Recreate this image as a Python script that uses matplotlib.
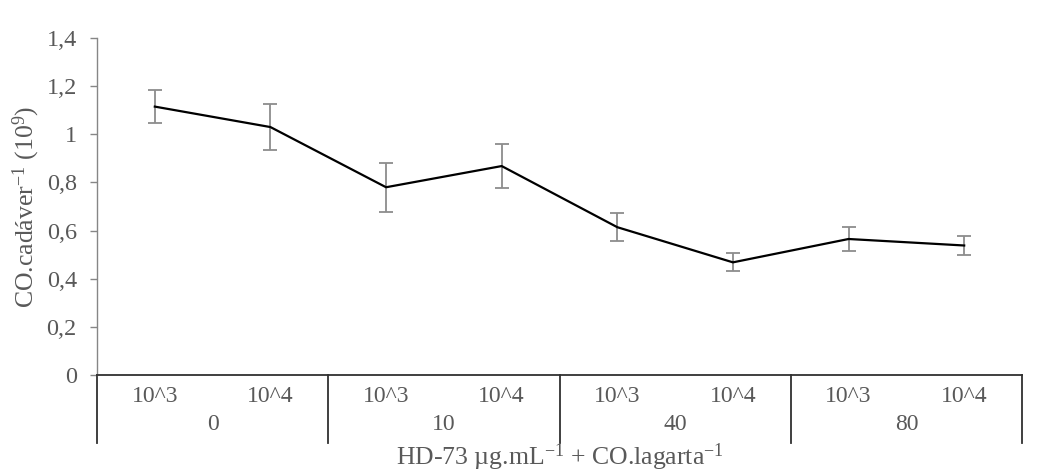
import matplotlib
matplotlib.use("Agg")
import matplotlib.pyplot as plt
import numpy as np

plt.rcParams['font.family'] = ['Liberation Serif', 'DejaVu Serif']
plt.rcParams['mathtext.fontset'] = 'custom'
plt.rcParams['mathtext.rm'] = 'Liberation Serif'
plt.rcParams['mathtext.it'] = 'Liberation Serif:italic'

sub_labels = ['10^3', '10^4', '10^3', '10^4', '10^3', '10^4', '10^3', '10^4']
group_labels = ['0', '10', '40', '80']
values = [1.115, 1.03, 0.78, 0.868, 0.614, 0.468, 0.565, 0.538]
errors = [0.068, 0.097, 0.102, 0.092, 0.059, 0.038, 0.049, 0.040]
yticks = [0, 0.2, 0.4, 0.6, 0.8, 1.0, 1.2, 1.4]
ytick_labels = ['0', '0,2', '0,4', '0,6', '0,8', '1', '1,2', '1,4']

TXT = '#595959'
FS = 17
fig = plt.figure(figsize=(10.4, 4.72), dpi=100)
L, R = 97/1040, 1022/1040
B, T = 1 - 375/472, 1 - 38/472
ax = fig.add_axes([L, B, R - L, T - B])

x = np.arange(len(values))
ax.errorbar(x, values, yerr=errors, color='black', lw=1.6, ecolor='#8c8c8c',
            elinewidth=1.3, capsize=5, capthick=1.3, zorder=3)
ax.set_xlim(-0.5, len(values) - 0.5)
ax.set_ylim(0, 1.4)
ax.set_yticks(yticks)
ax.set_yticklabels(ytick_labels)
ax.tick_params(axis='y', colors='#868686', labelcolor=TXT, labelsize=17.5,
               length=5, width=1, direction='out', pad=9.5)
ax.tick_params(axis='x', bottom=False, labelbottom=False)
for s in ['top', 'right']:
    ax.spines[s].set_visible(False)
ax.spines['left'].set_color('#868686')
ax.spines['left'].set_linewidth(1)
ax.spines['bottom'].set_color('#303030')
ax.spines['bottom'].set_linewidth(1.3)

ax.set_ylabel(r'CO.cadáver$^{\mathregular{-1}}$ (10$^{\mathregular{9}}$)',
              color=TXT, fontsize=18.5, labelpad=3)

# hierarchical category axis
trans = ax.get_xaxis_transform()
h = ax.get_window_extent().height
def ay(px):
    return -px / h
for gx in [-0.5, 1.5, 3.5, 5.5, 7.5]:
    ax.plot([gx, gx], [0, ay(68)], transform=trans, color='#303030', lw=1.3,
            clip_on=False)
for xi, lab in zip(x, sub_labels):
    ax.text(xi, ay(21), lab, transform=trans, ha='center', va='center',
            color=TXT, fontsize=FS)
for gi, lab in enumerate(group_labels):
    ax.text(2 * gi + 0.5, ay(50), lab, transform=trans, ha='center', va='center',
            color=TXT, fontsize=FS)
ax.text(3.5, ay(82), r'HD-73 µg.mL$^{\mathregular{-1}}$ + CO.lagarta$^{\mathregular{-1}}$',
        transform=trans, ha='center', va='center', color=TXT, fontsize=18.5)

fig.savefig('out.png', dpi=100)
